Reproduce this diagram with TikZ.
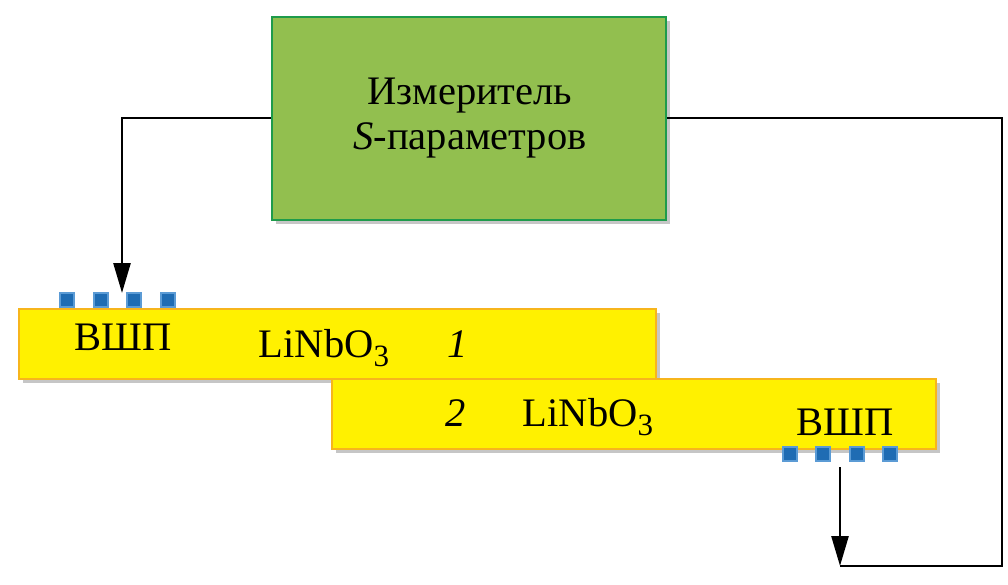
\documentclass[tikz,border=0pt]{standalone}
\usepackage{fontspec}
\setmainfont{Liberation Serif}
\usetikzlibrary{arrows.meta,shadows}
\definecolor{gfill}{HTML}{92BF4F}
\definecolor{gdraw}{HTML}{1E9B4B}
\definecolor{yfill}{HTML}{FFF100}
\definecolor{ydraw}{HTML}{F7B51C}
\definecolor{sqfill}{HTML}{1F6CB3}
\definecolor{sqdraw}{HTML}{5B9BD5}
\newcommand\lnb{LiNbO\raisebox{-9pt}{\fontsize{31}{31}\selectfont 3}}
\tikzset{
  lbl/.style={font=\fontsize{40.5}{45}\selectfont, inner sep=0pt, anchor=base},
  bar/.style={draw=ydraw, line width=1.8pt, fill=yfill, drop shadow={opacity=0.45, shadow xshift=4pt, shadow yshift=-4pt}},
  meter/.style={draw=gdraw, line width=2pt, fill=gfill, drop shadow={opacity=0.45, shadow xshift=4pt, shadow yshift=-4pt}},
  sq/.style={draw=sqdraw, line width=1.4pt, fill=sqfill, minimum size=14pt, inner sep=0pt},
  wire/.style={line width=2.6pt, black},
  arr/.style={wire, -{Triangle[length=30pt,width=17pt]}}
}
\begin{document}
\begin{tikzpicture}[x=1pt,y=-1pt]
\useasboundingbox (0,0) rectangle (1008,585);
% meter
\node[meter, minimum width=394pt, minimum height=203pt, anchor=north west] (m) at (271,16) {};
\node[lbl, align=center, anchor=center] (mt) at (470,118) {Измеритель\\{\itshape S}-параметров};
% bars
\node[bar, minimum width=637pt, minimum height=70pt, anchor=north west, inner sep=0pt] (b1) at (18,308) {};
\node[bar, minimum width=604pt, minimum height=70pt, anchor=north west, inner sep=0pt] (b2) at (331,378) {};
% squares
\node[sq] (t1) at (67,300) {};
\node[sq] (t2) at (101,300) {};
\node[sq] (t3) at (134,300) {};
\node[sq] (t4) at (168,300) {};
\node[sq] (u1) at (790,454) {};
\node[sq] (u2) at (823,454) {};
\node[sq] (u3) at (857,454) {};
\node[sq] (u4) at (890,454) {};
% labels
\node[lbl] (w1) at (123,350) {ВШП};
\node[lbl] (l1) at (324,357) {\lnb};
\node[lbl] (n1) at (458,357) {\itshape 1};
\node[lbl] (n2) at (456,426) {\itshape 2};
\node[lbl] (l2) at (588,426) {\lnb};
\node[lbl] (w2) at (845,435) {ВШП};
% wires
\coordinate (cl) at (122,118);
\coordinate (tin) at (122,293);
\coordinate (cr) at (1002,118);
\coordinate (cb) at (1002,566);
\coordinate (bot) at (840,566);
\coordinate (uout) at (840,467);
\draw[arr] (m.west |- cl) -- (cl) -- (tin);
\draw[wire] (m.east |- cr) -- (cr) -- (cb) -- (bot);
\draw[arr] (uout) -- (bot);
\end{tikzpicture}
\end{document}
